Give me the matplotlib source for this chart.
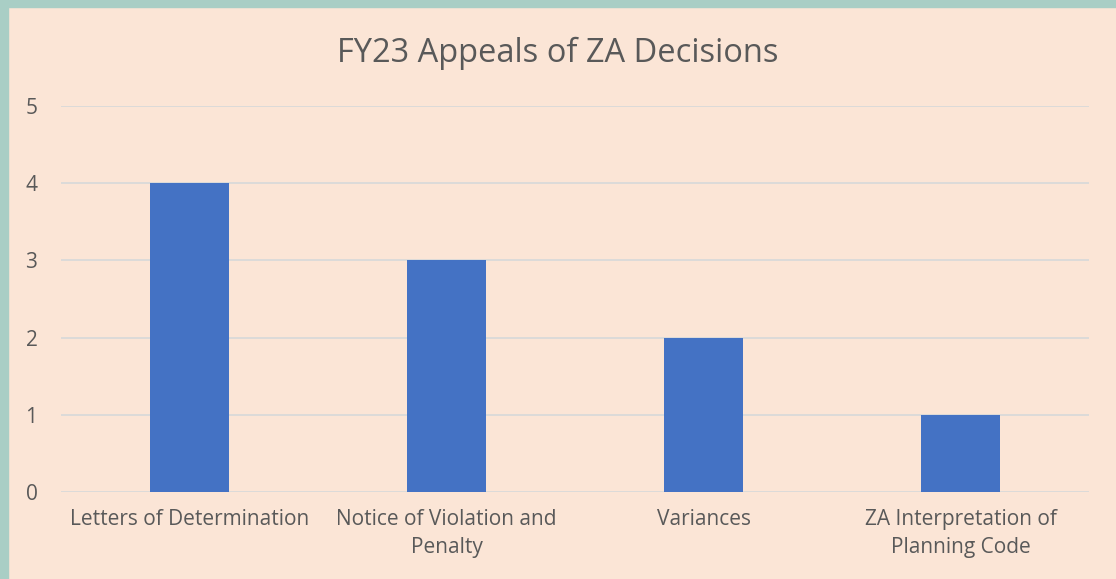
import matplotlib.pyplot as plt
import matplotlib.patches as patches

categories = ["Letters of Determination", "Notice of Violation and\nPenalty",
              "Variances", "ZA Interpretation of\nPlanning Code"]
appeals = [4, 3, 2, 1]
yticks = [0, 1, 2, 3, 4, 5]

bg = "#FBE5D6"
teal = "#A9CEC5"
txt = "#595959"

plt.rcParams['font.family'] = ['Open Sans', 'DejaVu Sans']

fig = plt.figure(figsize=(11.16, 5.79), dpi=100, facecolor=bg)
ax = fig.add_axes([0.0547, 0.1503, 0.9211, 0.6666])
ax.set_facecolor(bg)

x = range(len(categories))
ax.bar(x, appeals, width=0.31, color="#4472C4", zorder=3)

ax.set_xlim(-0.5, len(categories) - 0.5)
ax.set_ylim(0, 5)
ax.set_yticks(yticks)
ax.set_xticks(list(x))
ax.set_xticklabels(categories, fontsize=15, color=txt, linespacing=1.45)
ax.tick_params(axis='y', labelsize=15, labelcolor=txt, length=0, pad=17)
ax.tick_params(axis='x', length=0, pad=12)
ax.grid(axis='y', color="#D9D9D9", linewidth=1.3, zorder=0)
for s in ax.spines.values():
    s.set_visible(False)

fig.text(0.5, 0.908, "FY23 Appeals of ZA Decisions", ha='center', va='center',
         fontsize=23.5, color=txt)

# teal frame at top and left edge
fig.patches.append(patches.Rectangle((0, 1 - 7 / 579), 1, 7 / 579, transform=fig.transFigure,
                                     color=teal, zorder=0))
fig.patches.append(patches.Rectangle((0, 0), 8 / 1116, 1, transform=fig.transFigure,
                                     color=teal, zorder=0))

fig.savefig("out.png", dpi=100, facecolor=bg)
